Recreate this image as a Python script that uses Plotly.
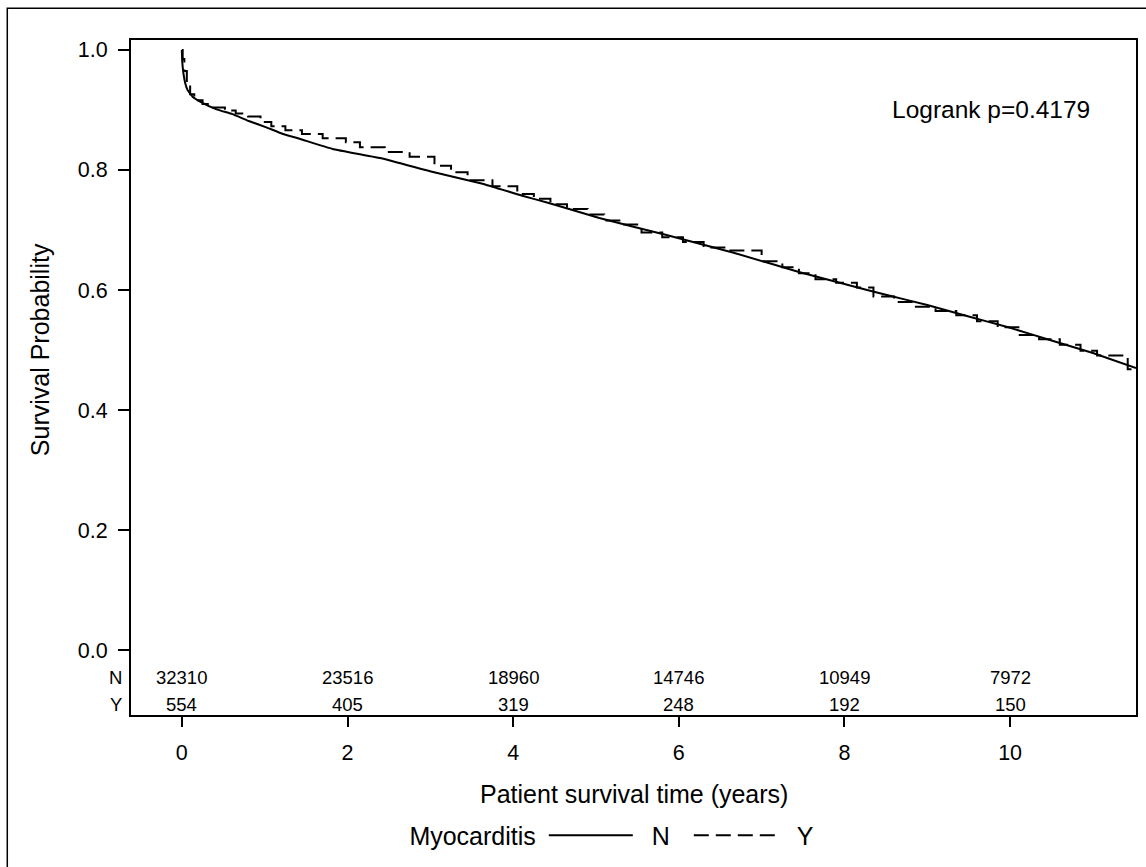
import plotly.graph_objects as go

# ---- data ----
# Myocarditis = N (solid, large group; curve looks smooth)
n_time = [0, 0.005, 0.02, 0.04, 0.07, 0.13, 0.22, 0.42, 0.61, 0.80, 1.02, 1.22, 1.42, 1.82,
          2.42, 3.02, 3.63, 4.11, 4.43, 5.04, 5.84, 6.64, 7.45, 8.0, 8.5, 9.0, 9.5, 10.0,
          10.5, 11.0, 11.52]
n_surv = [1.0, 0.980, 0.960, 0.945, 0.933, 0.922, 0.914, 0.901, 0.893, 0.882, 0.871, 0.860,
          0.852, 0.835, 0.819, 0.797, 0.777, 0.757, 0.745, 0.720, 0.692, 0.663, 0.630,
          0.610, 0.592, 0.575, 0.556, 0.537, 0.516, 0.495, 0.470]

# Myocarditis = Y (dashed, step function)
y_time = [0, 0.01, 0.03, 0.06, 0.10, 0.15, 0.25, 0.38, 0.52, 0.65, 0.80, 0.95, 1.08, 1.25,
          1.45, 1.70, 1.98, 2.15, 2.45, 2.75, 3.05, 3.25, 3.45, 3.75, 4.05, 4.25, 4.45,
          4.65, 4.90, 5.10, 5.30, 5.55, 5.80, 6.05, 6.30, 6.55, 7.00, 7.25, 7.45, 7.65,
          7.90, 8.15, 8.35, 8.60, 8.85, 9.10, 9.35, 9.60, 9.85, 10.10, 10.35, 10.60,
          10.85, 11.05, 11.42, 11.52]
y_surv = [1.0, 0.985, 0.965, 0.945, 0.926, 0.916, 0.910, 0.904, 0.899, 0.894, 0.889, 0.880,
          0.873, 0.866, 0.860, 0.853, 0.846, 0.838, 0.830, 0.822, 0.807, 0.796, 0.783,
          0.773, 0.760, 0.752, 0.743, 0.735, 0.726, 0.716, 0.709, 0.696, 0.688, 0.680,
          0.671, 0.666, 0.648, 0.638, 0.628, 0.618, 0.612, 0.604, 0.589, 0.580, 0.572,
          0.565, 0.558, 0.548, 0.538, 0.525, 0.518, 0.509, 0.499, 0.491, 0.468, 0.468]

# numbers at risk
risk_times = [0, 2, 4, 6, 8, 10]
risk_N = [32310, 23516, 18960, 14746, 10949, 7972]
risk_Y = [554, 405, 319, 248, 192, 150]

x_ticks = [0, 2, 4, 6, 8, 10]
y_ticks = [0.0, 0.2, 0.4, 0.6, 0.8, 1.0]

FONT = "Liberation Sans, Arial, Helvetica, sans-serif"
NB = "\u00a0"

fig = go.Figure()
fig.add_trace(go.Scatter(x=n_time, y=n_surv, mode="lines", name=NB * 2 + "N",
                         line=dict(color="black", width=2, dash="solid", shape="spline", smoothing=0.3)))
fig.add_trace(go.Scatter(x=y_time, y=y_surv, mode="lines", name=NB * 2 + "Y",
                         line=dict(color="black", width=2, dash="15px,7px", shape="hv")))

# at-risk table inside plot area
row_N_y = -0.0453
row_Y_y = -0.0897
for t, n, yv in zip(risk_times, risk_N, risk_Y):
    fig.add_annotation(x=t, y=row_N_y, text=str(n), showarrow=False,
                       font=dict(size=18.5, color="black", family=FONT))
    fig.add_annotation(x=t, y=row_Y_y, text=str(yv), showarrow=False,
                       font=dict(size=18.5, color="black", family=FONT))
for lab, yy in (("N", row_N_y), ("Y", row_Y_y)):
    fig.add_annotation(xref="paper", x=0, y=yy, text=lab, showarrow=False,
                       xanchor="right", xshift=-7,
                       font=dict(size=18.5, color="black", family=FONT))

# logrank text
fig.add_annotation(xref="paper", yref="paper", x=0.9563, y=0.8975, text="Logrank p=0.4179",
                   showarrow=False, xanchor="right", yanchor="middle",
                   font=dict(size=24.5, color="black", family=FONT))

# axis titles
fig.add_annotation(xref="paper", yref="y", x=-0.0904, y=0.5, text="Survival Probability",
                   textangle=-90, showarrow=False, xanchor="center", yanchor="middle",
                   font=dict(size=25, color="black", family=FONT))
fig.add_annotation(xref="paper", yref="paper", x=0.5, y=0, yshift=-79,
                   text="Patient survival time (years)", showarrow=False,
                   xanchor="center", yanchor="middle",
                   font=dict(size=25, color="black", family=FONT))

# outer frame
fig.add_shape(type="rect", xref="paper", yref="paper", x0=-0.1231, x1=1.02, y0=-0.23, y1=1.0469,
              line=dict(color="black", width=1.5), fillcolor="rgba(0,0,0,0)", layer="below")

fig.update_layout(
    width=1146, height=867,
    margin=dict(l=131, r=8, t=40, b=144),
    paper_bgcolor="white", plot_bgcolor="white",
    font=dict(family=FONT, color="black"),
    showlegend=True,
    legend=dict(orientation="h", x=0.275, xanchor="left", y=-0.1786, yanchor="middle",
                title=dict(text="Myocarditis", font=dict(size=25, family=FONT)),
                font=dict(size=25, family=FONT, color="black"),
                bgcolor="rgba(0,0,0,0)", itemwidth=84, entrywidth=46),
    xaxis=dict(range=[-0.614, 11.52], tickvals=x_ticks, ticks="outside", ticklen=10,
               tickwidth=2, tickcolor="black", showline=True, linecolor="black", linewidth=2,
               mirror=True, showgrid=False, zeroline=False,
               tickfont=dict(size=21.5, family=FONT, color="black"), ticklabelstandoff=7),
    yaxis=dict(range=[-0.108, 1.0165], tickvals=y_ticks, tickformat=".1f", ticks="outside",
               ticklen=11, tickwidth=2, tickcolor="black", showline=True, linecolor="black",
               linewidth=2, mirror=True, showgrid=False, zeroline=False,
               tickfont=dict(size=21.5, family=FONT, color="black"), ticklabelstandoff=6),
)

fig.write_html("out.html")
